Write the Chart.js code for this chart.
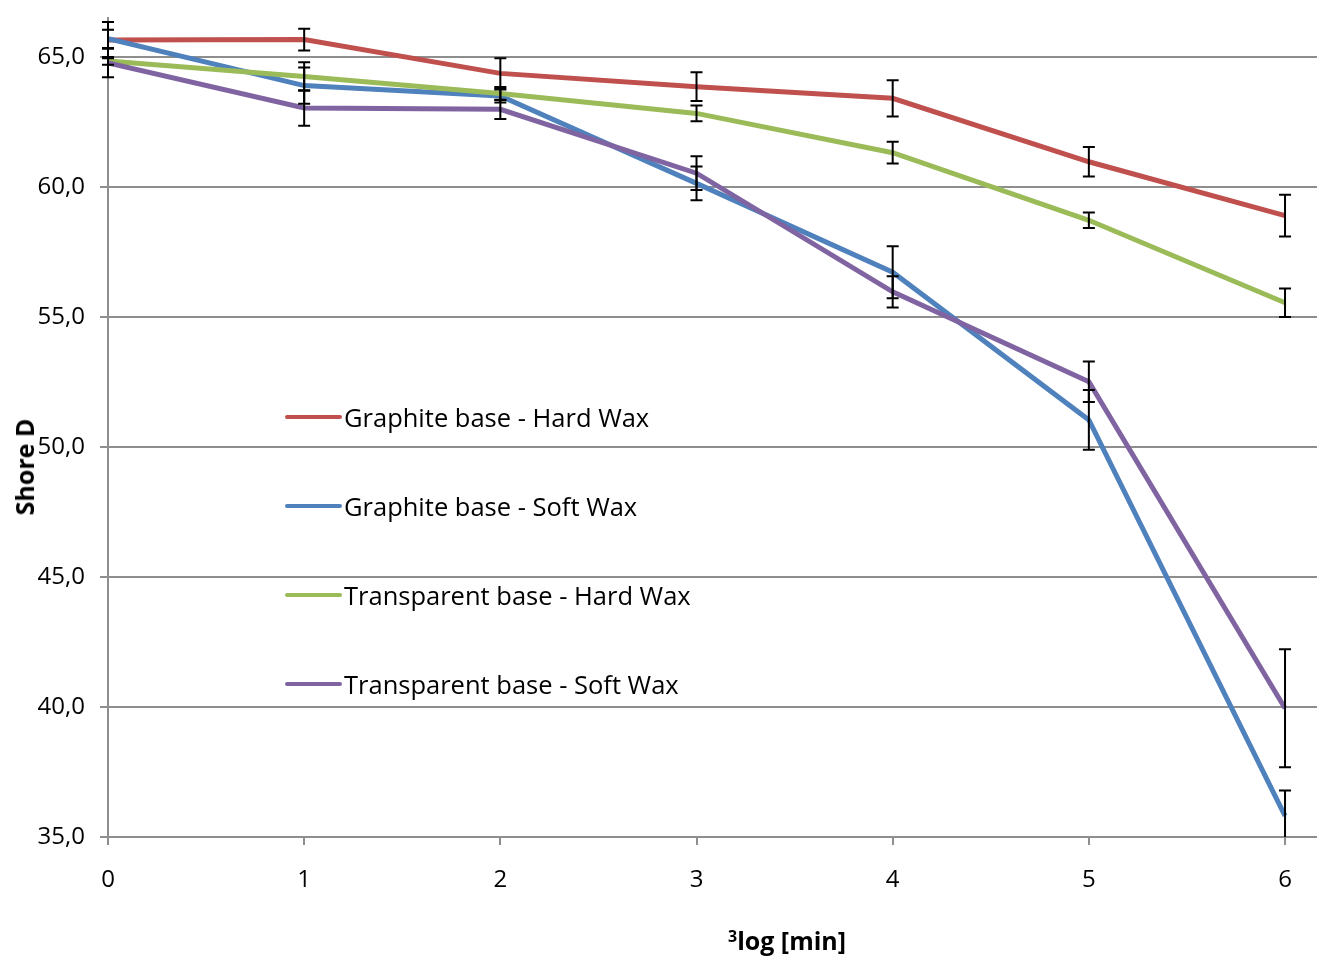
<!DOCTYPE html>
<html>
<head>
<meta charset="utf-8">
<script src="https://cdn.jsdelivr.net/npm/chart.js@4.4.0/dist/chart.umd.min.js"></script>
<style>
  html, body { margin: 0; padding: 0; background: #fff; }
  #wrap { position: relative; width: 1317px; height: 956px; font-family: 'Open Sans', sans-serif; }
  #chart { position: absolute; left: 0; top: 0; }
  .legend-item { position: absolute; left: 285px; display: flex; align-items: center; height: 40px; margin-top: -20px; font-size: 25.5px; color: #000; white-space: nowrap; }
  .legend-item span.swatch { display: inline-block; width: 57px; height: 4.5px; border-radius: 2px; margin-right: 2px; }
  .axis-title { position: absolute; font-weight: bold; font-size: 25px; color: #000; white-space: nowrap; }
  #ytitle { left: 24px; top: 467px; transform: translate(-50%, -50%) rotate(-90deg); }
  #xtitle { left: 787px; top: 940px; transform: translate(-50%, -50%); }
</style>
</head>
<body>
<div id="wrap">
  <canvas id="chart" width="1317" height="956"></canvas>
  <div id="legend"></div>
  <div class="axis-title" id="ytitle">Shore D</div>
  <div class="axis-title" id="xtitle"><sup style="font-size:16px;vertical-align:8px">3</sup>log [min]</div>
</div>
<script>
const xValues = [0, 1, 2, 3, 4, 5, 6];
const yTicks = [35, 40, 45, 50, 55, 60, 65];

const seriesNames = [
    'Graphite base - Hard Wax',
    'Graphite base - Soft Wax',
    'Transparent base - Hard Wax',
    'Transparent base - Soft Wax'
];
const seriesColors = ['#C0504D', '#4F81BD', '#9BBB59', '#8064A2'];

const graphiteHard = [65.65, 65.67, 64.37, 63.86, 63.41, 60.97, 58.90];
const graphiteSoft = [65.70, 63.90, 63.50, 60.14, 56.72, 51.04, 35.81];
const transparentHard = [64.85, 64.25, 63.60, 62.83, 61.32, 58.72, 55.55];
const transparentSoft = [64.77, 63.04, 62.99, 60.53, 55.97, 52.51, 39.95];

const graphiteHardErr = [0.70, 0.42, 0.58, 0.55, 0.70, 0.57, 0.80];
const graphiteSoftErr = [0.35, 0.70, 0.25, 0.65, 1.00, 1.15, 0.98];
const transparentHardErr = [0.15, 0.55, 0.25, 0.30, 0.42, 0.30, 0.55];
const transparentSoftErr = [0.55, 0.68, 0.37, 0.65, 0.60, 0.78, 2.27];

const seriesValues = [graphiteHard, graphiteSoft, transparentHard, transparentSoft];
const seriesErrors = [graphiteHardErr, graphiteSoftErr, transparentHardErr, transparentSoftErr];

const FONT = "'Open Sans', sans-serif";
const GRID = '#8e8e8e';

// error bars drawn on top of the lines
const errorBars = {
    id: 'errorBars',
    afterDatasetsDraw(chart) {
        const ctx = chart.ctx;
        const xs = chart.scales.x;
        const ys = chart.scales.y;
        const area = chart.chartArea;
        ctx.save();
        ctx.beginPath();
        ctx.rect(area.left - 10, area.top - 10, area.right - area.left + 20, area.bottom - area.top + 10);
        ctx.clip();
        ctx.strokeStyle = '#000';
        ctx.lineWidth = 2;
        seriesValues.forEach((vals, i) => {
            vals.forEach((v, j) => {
                const x = xs.getPixelForValue(xValues[j]);
                const top = ys.getPixelForValue(v + seriesErrors[i][j]);
                const bot = ys.getPixelForValue(v - seriesErrors[i][j]);
                ctx.beginPath();
                ctx.moveTo(x, top);
                ctx.lineTo(x, Math.min(bot, area.bottom));
                ctx.moveTo(x - 6, top);
                ctx.lineTo(x + 6, top);
                if (bot <= area.bottom) {
                    ctx.moveTo(x - 6, bot);
                    ctx.lineTo(x + 6, bot);
                }
                ctx.stroke();
            });
        });
        ctx.restore();
    }
};

const datasets = seriesValues.map((vals, i) => ({
    label: seriesNames[i],
    data: vals.map((v, j) => ({ x: xValues[j], y: v })),
    borderColor: seriesColors[i],
    backgroundColor: seriesColors[i],
    borderWidth: 5,
    pointRadius: 0,
    tension: 0,
    fill: false,
    order: 4 - i
}));

const ctx = document.getElementById('chart').getContext('2d');
new Chart(ctx, {
    type: 'line',
    data: { datasets: datasets },
    options: {
        responsive: false,
        animation: false,
        layout: { padding: { top: 18, right: 0, left: 0, bottom: 0 } },
        plugins: {
            legend: { display: false },
            tooltip: { enabled: false }
        },
        scales: {
            x: {
                type: 'linear',
                min: 0,
                max: 6.163,
                afterFit: s => { s.height = 119; },
                ticks: {
                    stepSize: 1,
                    includeBounds: false,
                    color: '#000',
                    padding: 21,
                    font: { family: FONT, size: 24 }
                },
                grid: { drawOnChartArea: false, drawTicks: true, tickLength: 8, color: GRID, lineWidth: 2 },
                border: { color: GRID, width: 2 }
            },
            y: {
                min: 35,
                max: 66.5,
                afterFit: s => { s.width = 108; s.paddingTop = 0; s.paddingBottom = 0; },
                afterBuildTicks: s => { s.ticks = yTicks.map(v => ({ value: v })); },
                ticks: {
                    color: '#000',
                    padding: 15,
                    font: { family: FONT, size: 24 },
                    callback: v => v.toFixed(1).replace('.', ',')
                },
                grid: { drawTicks: true, tickLength: 8, color: GRID, lineWidth: 2 },
                border: { color: GRID, width: 2 }
            }
        }
    },
    plugins: [errorBars]
});

// legend inside the plot, like the original
const legendTops = [417, 506, 595, 684];
const legend = document.getElementById('legend');
seriesNames.forEach((name, i) => {
    const item = document.createElement('div');
    item.className = 'legend-item';
    item.style.top = legendTops[i] + 'px';
    const sw = document.createElement('span');
    sw.className = 'swatch';
    sw.style.background = seriesColors[i];
    item.appendChild(sw);
    item.appendChild(document.createTextNode(name));
    legend.appendChild(item);
});
</script>
</body>
</html>
